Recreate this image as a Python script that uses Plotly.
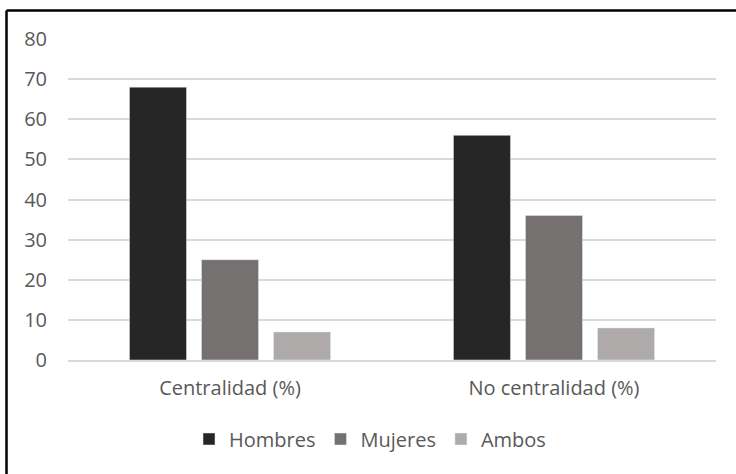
import plotly.graph_objects as go

categories = ["Centralidad (%)", "No centralidad (%)"]
hombres = [68, 56]
mujeres = [25, 36]
ambos = [7, 8]
y_ticks = [0, 10, 20, 30, 40, 50, 60, 70, 80]

W, H = 736, 474
L, R, T, B = 68, 716, 39, 360

fig = go.Figure()
fig.add_trace(go.Bar(name="Hombres", x=categories, y=hombres, marker_color="#262626"))
fig.add_trace(go.Bar(name="Mujeres", x=categories, y=mujeres, marker_color="#767171"))
fig.add_trace(go.Bar(name="Ambos", x=categories, y=ambos, marker_color="#AEAAAA"))

pw, ph = R - L, B - T
def px(x):
    return (x - L) / pw
def py(y):
    return (B - y) / ph

FS = 20
fig.update_layout(
    width=W, height=H,
    margin=dict(l=L, r=W - R, t=T, b=H - B),
    paper_bgcolor="white", plot_bgcolor="white",
    barmode="group", bargap=0.333, bargroupgap=0.208,
    font=dict(family="Open Sans", size=FS, color="#595959"),
    yaxis=dict(range=[0, 80], tickvals=y_ticks, showgrid=True, gridcolor="#D9D9D9",
               gridwidth=1.5, zeroline=False, showline=False, ticks="", ticklen=0,
               ticklabelstandoff=20,
               tickfont=dict(size=FS, color="#595959")),
    xaxis=dict(showline=True, linecolor="#D9D9D9", linewidth=1.5, ticks="",
               ticklabelstandoff=9,
               tickfont=dict(size=FS, color="#595959")),
    legend=dict(orientation="h", x=px(370), xanchor="center", y=py(439), yanchor="middle",
                font=dict(size=FS, color="#595959"), itemwidth=30, traceorder="normal"),
    showlegend=True,
    shapes=[
        dict(type="line", xref="paper", yref="paper", x0=px(6.5), x1=px(740), y0=py(10.5), y1=py(10.5),
             line=dict(color="black", width=2.5)),
        dict(type="line", xref="paper", yref="paper", x0=px(6.5), x1=px(6.5), y0=py(10.5), y1=py(480),
             line=dict(color="black", width=2.5)),
    ],
)

fig.write_html("out.html", config={"displayModeBar": False},
               post_script="document.body.style.margin='0';document.body.style.overflow='hidden';")
